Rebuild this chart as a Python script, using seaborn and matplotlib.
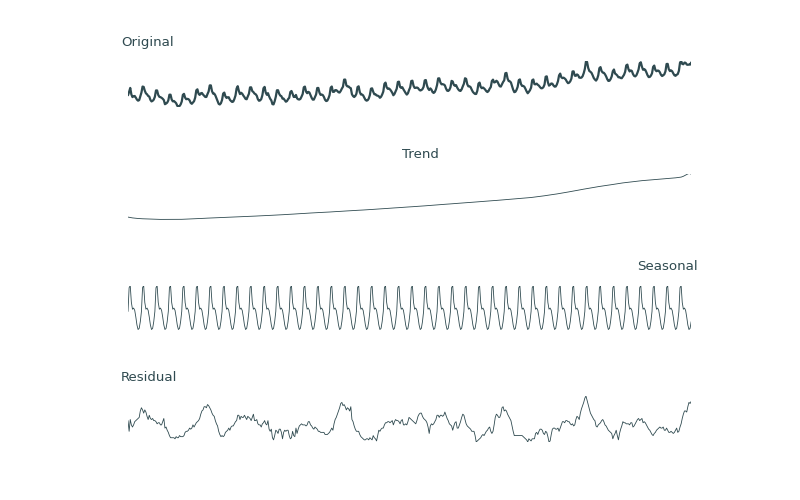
import numpy as np
import pandas as pd
import seaborn as sns
import matplotlib.pyplot as plt

# one seasonal cycle, 12 steps
seasonal_cycle = [-0.4, 1.7, 1.9, 0.4, -0.2, -0.1, -0.3, -0.9, -1.6, -2.0, -1.9, -1.3]

trend = [
    0.00, -0.05, -0.10, -0.14, -0.18, -0.21, -0.24, -0.27, -0.29, -0.31, -0.33, -0.35,
    -0.36, -0.37, -0.38, -0.39, -0.40, -0.41, -0.42, -0.43, -0.44, -0.45, -0.46, -0.48,
    -0.49, -0.49, -0.50, -0.50, -0.50, -0.51, -0.51, -0.51, -0.52, -0.52, -0.52, -0.53,
    -0.53, -0.53, -0.53, -0.53, -0.52, -0.52, -0.52, -0.51, -0.51, -0.50, -0.50, -0.50,
    -0.49, -0.48, -0.47, -0.46, -0.45, -0.44, -0.43, -0.42, -0.41, -0.40, -0.38, -0.37,
    -0.36, -0.35, -0.34, -0.32, -0.31, -0.30, -0.29, -0.28, -0.27, -0.25, -0.24, -0.23,
    -0.22, -0.21, -0.20, -0.19, -0.18, -0.17, -0.15, -0.14, -0.13, -0.12, -0.11, -0.10,
    -0.09, -0.08, -0.07, -0.06, -0.05, -0.04, -0.04, -0.03, -0.02, -0.01, 0.00, 0.01,
    0.02, 0.03, 0.04, 0.06, 0.07, 0.08, 0.09, 0.10, 0.11, 0.13, 0.14, 0.15,
    0.16, 0.17, 0.18, 0.19, 0.20, 0.21, 0.22, 0.24, 0.25, 0.26, 0.27, 0.28,
    0.29, 0.30, 0.32, 0.33, 0.34, 0.35, 0.37, 0.38, 0.39, 0.40, 0.42, 0.43,
    0.44, 0.45, 0.47, 0.48, 0.49, 0.51, 0.52, 0.53, 0.55, 0.56, 0.57, 0.59,
    0.60, 0.62, 0.63, 0.65, 0.66, 0.68, 0.69, 0.71, 0.72, 0.74, 0.75, 0.77,
    0.78, 0.80, 0.81, 0.83, 0.84, 0.86, 0.87, 0.89, 0.90, 0.92, 0.93, 0.95,
    0.96, 0.97, 0.99, 1.00, 1.01, 1.02, 1.04, 1.05, 1.06, 1.07, 1.09, 1.10,
    1.11, 1.13, 1.14, 1.16, 1.17, 1.19, 1.20, 1.22, 1.23, 1.25, 1.26, 1.28,
    1.29, 1.31, 1.32, 1.34, 1.35, 1.37, 1.38, 1.40, 1.41, 1.43, 1.44, 1.46,
    1.47, 1.48, 1.50, 1.51, 1.53, 1.54, 1.55, 1.57, 1.58, 1.60, 1.61, 1.63,
    1.64, 1.66, 1.67, 1.69, 1.71, 1.72, 1.74, 1.76, 1.77, 1.79, 1.81, 1.82,
    1.84, 1.86, 1.87, 1.89, 1.91, 1.92, 1.94, 1.96, 1.97, 1.99, 2.01, 2.02,
    2.04, 2.06, 2.07, 2.09, 2.11, 2.12, 2.14, 2.16, 2.17, 2.19, 2.21, 2.22,
    2.24, 2.26, 2.27, 2.29, 2.31, 2.32, 2.34, 2.36, 2.37, 2.39, 2.41, 2.42,
    2.44, 2.46, 2.48, 2.50, 2.52, 2.54, 2.56, 2.57, 2.59, 2.61, 2.63, 2.65,
    2.67, 2.69, 2.71, 2.72, 2.74, 2.76, 2.78, 2.80, 2.82, 2.83, 2.85, 2.87,
    2.89, 2.91, 2.93, 2.94, 2.96, 2.98, 3.00, 3.02, 3.04, 3.05, 3.07, 3.09,
    3.11, 3.13, 3.15, 3.16, 3.18, 3.20, 3.22, 3.24, 3.26, 3.27, 3.29, 3.31,
    3.33, 3.35, 3.37, 3.39, 3.41, 3.43, 3.45, 3.46, 3.48, 3.50, 3.52, 3.54,
    3.56, 3.58, 3.60, 3.61, 3.63, 3.65, 3.67, 3.69, 3.71, 3.72, 3.74, 3.76,
    3.78, 3.80, 3.82, 3.84, 3.86, 3.88, 3.90, 3.92, 3.94, 3.96, 3.98, 4.00,
    4.02, 4.04, 4.07, 4.09, 4.11, 4.13, 4.16, 4.18, 4.20, 4.22, 4.25, 4.27,
    4.29, 4.32, 4.35, 4.38, 4.42, 4.45, 4.48, 4.51, 4.54, 4.58, 4.61, 4.64,
    4.67, 4.71, 4.74, 4.78, 4.82, 4.85, 4.89, 4.93, 4.96, 5.00, 5.04, 5.07,
    5.11, 5.15, 5.20, 5.24, 5.28, 5.32, 5.37, 5.41, 5.45, 5.49, 5.54, 5.58,
    5.62, 5.67, 5.71, 5.76, 5.80, 5.85, 5.89, 5.94, 5.98, 6.03, 6.07, 6.12,
    6.16, 6.20, 6.25, 6.29, 6.33, 6.37, 6.42, 6.46, 6.50, 6.54, 6.59, 6.63,
    6.67, 6.71, 6.74, 6.78, 6.82, 6.85, 6.89, 6.93, 6.96, 7.00, 7.04, 7.07,
    7.11, 7.15, 7.19, 7.22, 7.26, 7.30, 7.34, 7.37, 7.41, 7.45, 7.49, 7.52,
    7.56, 7.59, 7.62, 7.65, 7.68, 7.71, 7.73, 7.76, 7.79, 7.82, 7.85, 7.88,
    7.91, 7.93, 7.96, 7.98, 8.00, 8.02, 8.05, 8.07, 8.09, 8.11, 8.14, 8.16,
    8.18, 8.20, 8.22, 8.23, 8.25, 8.27, 8.29, 8.31, 8.33, 8.34, 8.36, 8.38,
    8.40, 8.42, 8.45, 8.47, 8.49, 8.51, 8.54, 8.56, 8.58, 8.60, 8.63, 8.65,
    8.67, 8.70, 8.76, 8.84, 8.94, 9.06, 9.20, 9.34, 9.46, 9.55, 9.52, 9.40,
]

resid = [
    -0.2, -1.2, -0.1, -0.6, -0.8, -0.6, -0.3, -0.2, -0.1, 0.0, 0.1, 0.7,
    1.0, 0.8, 0.5, 0.8, 0.6, 0.2, -0.1, 0.3, 0.0, -0.1, 0.0, -0.2,
    -0.2, -0.3, -0.5, -0.4, -0.4, -0.6, -0.6, -0.3, 0.0, -0.9, -0.8, -1.1,
    -1.3, -1.6, -1.8, -1.8, -1.8, -1.8, -1.9, -1.7, -1.8, -1.8, -1.6, -1.7,
    -1.7, -1.7, -1.6, -1.3, -1.2, -1.2, -1.1, -0.9, -1.0, -0.9, -0.6, -0.8,
    -0.6, -0.4, -0.3, -0.2, 0.0, 0.4, 0.7, 0.8, 1.1, 1.1, 1.0, 1.3,
    1.2, 1.0, 0.8, 0.5, 0.3, 0.2, -0.2, -0.5, -0.7, -1.2, -1.5, -1.7,
    -1.6, -1.7, -1.6, -1.3, -1.2, -1.1, -0.9, -1.1, -0.8, -0.7, -0.7, -0.5,
    -0.3, -0.2, 0.3, 0.3, -0.1, 0.2, 0.1, 0.1, 0.3, 0.1, -0.1, 0.2,
    0.1, 0.0, -0.2, 0.1, 0.4, -0.2, -0.2, -0.1, -0.5, -0.6, -0.6, -0.8,
    -0.5, -0.4, -0.2, -0.5, -0.6, -0.2, -1.0, -1.2, -1.0, -1.8, -2.0, -1.6,
    -1.1, -1.2, -1.4, -1.0, -1.0, -1.3, -1.9, -1.3, -1.1, -1.2, -1.1, -1.1,
    -1.6, -1.9, -1.8, -1.2, -1.6, -1.7, -0.9, -1.4, -1.0, -0.7, -0.6, -0.5,
    -0.6, -0.6, -0.6, -0.7, -0.6, -0.3, -0.3, -0.6, -0.7, -0.9, -1.0, -0.8,
    -0.9, -1.0, -1.2, -1.2, -1.3, -1.3, -1.3, -1.3, -1.5, -1.5, -1.5, -1.4,
    -1.3, -1.1, -0.9, -1.1, -0.5, -0.1, 0.1, 0.4, 0.7, 1.0, 1.4, 1.5,
    1.2, 1.3, 1.1, 0.8, 1.0, 0.9, 0.7, 1.1, -0.1, -0.3, -0.7, -1.0,
    -1.2, -1.2, -1.2, -1.5, -1.7, -1.8, -1.9, -2.0, -2.0, -1.9, -1.9, -2.0,
    -1.8, -1.9, -2.0, -1.6, -1.8, -1.9, -2.1, -1.6, -1.1, -1.2, -1.0, -0.9,
    -0.9, -0.6, -0.4, -0.4, -0.3, -0.3, -0.4, -0.3, -0.2, -0.6, -0.3, -0.1,
    -0.2, -0.2, -0.3, -0.5, -0.2, -0.1, -0.6, -0.6, -0.5, -0.6, -0.3, 0.1,
    0.0, -0.1, -0.2, -0.3, -0.4, -0.5, -0.2, 0.2, 0.4, 0.5, 0.5, 0.2,
    0.0, -0.1, -0.2, -0.4, -0.8, -1.4, -0.7, -0.5, -0.6, -0.5, -0.3, -0.1,
    0.3, 0.3, 0.1, 0.3, 0.3, 0.2, 0.3, 0.6, 0.3, 0.0, -0.2, -0.5,
    -0.6, -0.7, -1.1, -0.7, -0.4, -0.3, -0.9, -0.9, -0.6, -0.3, 0.1, 0.4,
    0.3, -0.1, -0.5, -0.7, -0.8, -0.9, -1.0, -1.2, -1.2, -1.2, -1.6, -2.2,
    -2.1, -2.0, -1.9, -1.8, -1.6, -1.5, -1.6, -1.4, -1.2, -1.1, -0.9, -0.8,
    -1.2, -1.4, -1.2, -0.6, 0.1, 0.4, 0.3, 0.1, 0.1, 0.4, 1.0, 1.1,
    0.7, 0.8, 0.7, 0.4, 0.2, 0.0, -0.2, -0.7, -1.2, -1.6, -1.6, -1.6,
    -1.6, -1.6, -1.6, -1.6, -1.6, -1.7, -1.8, -1.9, -2.0, -2.2, -1.9, -2.0,
    -2.1, -1.9, -1.9, -1.9, -1.4, -1.3, -1.5, -1.2, -1.0, -1.0, -1.1, -1.4,
    -1.5, -1.2, -1.3, -1.7, -2.2, -2.1, -1.5, -1.0, -0.9, -0.9, -1.0, -1.0,
    -0.9, -1.2, -0.9, -0.6, -0.3, -0.3, -0.4, -0.2, -0.2, -0.3, -0.3, -0.5,
    -0.6, -0.5, -0.7, -0.6, -0.1, 0.2, 0.1, -0.1, 0.5, 0.9, 1.2, 1.5,
    1.9, 2.1, 1.7, 1.3, 0.9, 0.5, 0.3, 0.1, -0.1, -0.2, -0.7, -0.8,
    -0.6, -0.5, -0.4, -0.2, -0.1, -0.3, -0.6, -0.7, -0.9, -1.1, -1.2, -1.3,
    -1.4, -1.9, -1.6, -1.4, -1.1, -1.6, -2.0, -1.4, -1.0, -0.7, -0.3, -0.4,
    -0.4, -0.5, -0.5, -0.5, -0.6, -0.4, -0.4, -0.8, -0.7, -0.5, -0.3, -0.1,
    0.0, -0.2, -0.1, 0.0, -0.4, -0.3, -0.4, -0.6, -0.8, -1.0, -1.1, -1.3,
    -1.5, -1.6, -1.4, -1.3, -1.1, -1.0, -0.9, -0.8, -0.9, -0.9, -0.8, -1.1,
    -1.1, -0.9, -1.1, -1.3, -1.3, -1.2, -1.3, -1.4, -1.3, -1.1, -0.9, -1.3,
    -1.2, -0.8, -0.5, 0.0, 0.4, 0.7, 0.7, 0.6, 1.1, 1.5, 1.4, 1.6,
]

panel_names = ["Original", "Trend", "Seasonal", "Residual"]

n = len(trend)
seasonal = np.tile(seasonal_cycle, n // len(seasonal_cycle))
original = np.array(trend) + seasonal + np.array(resid)

df = pd.DataFrame({
    "t": np.arange(n),
    "Original": original,
    "Trend": trend,
    "Seasonal": seasonal,
    "Residual": resid,
})

sns.set_theme(style="white")
color = "#2f4a50"

fig = plt.figure(figsize=(8, 5), dpi=100)

# panel boxes [left, bottom, width, height] in figure fractions
boxes = [
    [0.16, 0.786, 0.704, 0.092],
    [0.16, 0.561, 0.704, 0.092],
    [0.16, 0.341, 0.704, 0.088],
    [0.16, 0.116, 0.704, 0.092],
]
title_loc = ["left", "center", "right", "left"]
title_x = [-0.0124, 0.519, 1.0124, -0.0124]
widths = [1.6, 0.6, 0.6, 0.6]

for name, box, loc, tx, lw in zip(panel_names, boxes, title_loc, title_x, widths):
    ax = fig.add_axes(box)
    sns.lineplot(data=df, x="t", y=name, ax=ax, color=color, linewidth=lw)
    ax.set_xlim(df["t"].min(), df["t"].max())
    ax.margins(y=0)
    ax.set_title(name, loc=loc, x=tx, pad=10.8, fontsize=9.6, color=color)
    ax.set_axis_off()

plt.savefig("out.png", dpi=100)
